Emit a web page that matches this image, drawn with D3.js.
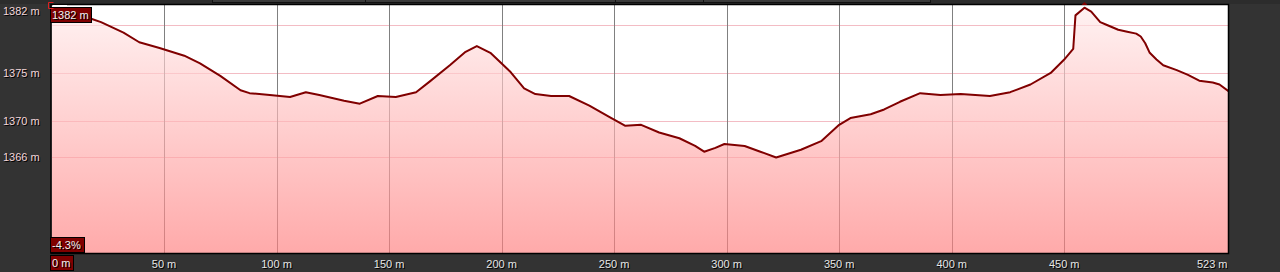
<!DOCTYPE html>
<html>
<head>
<meta charset="utf-8">
<script src="https://cdn.jsdelivr.net/npm/d3@7"></script>
<style>
  body { margin: 0; background: #333333; overflow: hidden; }
  svg { display: block; font-family: "Liberation Sans", Arial, sans-serif; }
</style>
</head>
<body>
<svg id="chart" width="1280" height="272"></svg>
<script>
// profile samples: distance (m) and elevation (m)
const distances = [0, 8, 17, 22, 32, 39, 48, 59, 66, 75, 84, 88, 97, 106, 113, 119, 130, 137, 145, 153,
  162, 168, 177, 184, 189, 195, 204, 210, 215, 222, 230, 239, 248, 255, 262, 270, 279, 286, 290, 295,
  299, 308, 315, 322, 333, 342, 350, 355, 364, 370, 377, 386, 395, 404, 417, 426, 435, 444, 450, 454,
  455, 459, 462, 466, 469, 474, 478, 482, 484, 486, 488, 491, 494, 500, 505, 510, 516, 519, 523];
const elevations = [1381.5, 1381.2, 1380.7, 1380.3, 1379.2, 1378.2, 1377.6, 1376.8, 1376.0, 1374.7,
  1373.2, 1372.9, 1372.7, 1372.5, 1373.0, 1372.7, 1372.1, 1371.8, 1372.6, 1372.5,
  1373.0, 1374.1, 1375.8, 1377.2, 1377.8, 1377.1, 1375.1, 1373.4, 1372.8, 1372.6,
  1372.6, 1371.6, 1370.4, 1369.5, 1369.6, 1368.8, 1368.2, 1367.4, 1366.8, 1367.2,
  1367.6, 1367.4, 1366.8, 1366.2, 1367.0, 1367.9, 1369.6, 1370.3, 1370.7, 1371.2,
  1372.0, 1372.9, 1372.7, 1372.8, 1372.6, 1373.0, 1373.8, 1375.0, 1376.4, 1377.5,
  1381.0, 1381.8, 1381.4, 1380.3, 1380.0, 1379.5, 1379.3, 1379.1, 1378.8, 1378.1,
  1377.1, 1376.4, 1375.8, 1375.3, 1374.8, 1374.2, 1374.0, 1373.8, 1373.1];
const xTicks = [0, 50, 100, 150, 200, 250, 300, 350, 400, 450, 523];
const yGrid = [1380, 1375, 1370];
const gradeLabel = "-4.3%";

const data = distances.map((d, i) => ({ d: d, e: elevations[i] }));
const minE = d3.min(elevations), maxE = d3.max(elevations);

const L = 51.5, R = 1228.5, T = 4.5, B = 253.5;
const svg = d3.select("#chart");

const x = d3.scaleLinear().domain([0, 523]).range([L, R]);
const y = d3.scaleLinear().domain([1356.25, 1382.08]).range([253, 5]);

// toolbar strip at the top
svg.append("rect").attr("x", 0).attr("y", 0).attr("width", 1280).attr("height", 4).attr("fill", "#2c2c2c");
const tabs = [[212, 365], [365, 615], [615, 703], [703, 930]];
svg.selectAll(".tab").data(tabs).enter().append("rect")
  .attr("x", d => d[0] + 0.5).attr("y", -2)
  .attr("width", d => d[1] - d[0]).attr("height", 4.5)
  .attr("fill", "#3a3a3a").attr("stroke", "#111");

// plot background
svg.append("rect").attr("x", L).attr("y", T).attr("width", R - L).attr("height", B - T).attr("fill", "#fff");

const defs = svg.append("defs");
const grad = defs.append("linearGradient").attr("id", "fillGrad")
  .attr("gradientUnits", "userSpaceOnUse")
  .attr("x1", 0).attr("y1", T).attr("x2", 0).attr("y2", B);
grad.append("stop").attr("offset", "0%").attr("stop-color", "rgb(255,236,236)");
grad.append("stop").attr("offset", "100%").attr("stop-color", "rgb(255,124,124)");
defs.append("clipPath").attr("id", "plotClip").append("rect")
  .attr("x", L).attr("y", T).attr("width", R - L).attr("height", B - T);

// grid
const grid = svg.append("g").attr("clip-path", "url(#plotClip)");
grid.selectAll(".hg").data(yGrid.concat([minE])).enter().append("line")
  .attr("x1", L).attr("x2", R)
  .attr("y1", d => Math.round(y(d)) + 0.5).attr("y2", d => Math.round(y(d)) + 0.5)
  .attr("stroke", "#f3bcc4").attr("stroke-width", 1);
grid.selectAll(".vg").data(xTicks.slice(1, -1)).enter().append("line")
  .attr("x1", d => Math.round(x(d)) + 0.5).attr("x2", d => Math.round(x(d)) + 0.5)
  .attr("y1", T).attr("y2", B)
  .attr("stroke", "#808080").attr("stroke-width", 1);

// elevation area and line
const body = svg.append("g").attr("clip-path", "url(#plotClip)");
body.append("path").datum(data)
  .attr("d", d3.area().x(d => x(d.d)).y0(B).y1(d => y(d.e)))
  .attr("fill", "url(#fillGrad)").attr("fill-opacity", 0.65);
body.append("path").datum(data)
  .attr("d", d3.line().x(d => x(d.d)).y(d => y(d.e)))
  .attr("fill", "none").attr("stroke", "#800000").attr("stroke-width", 2)
  .attr("stroke-linejoin", "round");

// plot border
svg.append("rect").attr("x", L - 0.5).attr("y", T).attr("width", R - L + 0.5).attr("height", B - T)
  .attr("fill", "none").attr("stroke", "#000").attr("stroke-width", 1.5);

function shadowText(g, tx, ty, txt, anchor, color) {
  g.append("text").attr("x", tx + 1).attr("y", ty + 1).attr("text-anchor", anchor)
    .attr("font-size", 11).attr("fill", "#000").text(txt);
  g.append("text").attr("x", tx).attr("y", ty).attr("text-anchor", anchor)
    .attr("font-size", 11).attr("fill", color).text(txt);
}

// y labels
const yLabels = [maxE].concat(yGrid.slice(1), [minE]);
const yl = svg.append("g");
yLabels.forEach(v => {
  shadowText(yl, 3, Math.max(y(v), 11) + 4, d3.format(".0f")(v) + " m", "start", "#f2d6da");
});

// x labels
const xl = svg.append("g");
xTicks.slice(1, -1).forEach(v => {
  shadowText(xl, x(v), 268, v + " m", "middle", "#e6e6e6");
});
shadowText(xl, R - 1, 268, xTicks[xTicks.length - 1] + " m", "end", "#e6e6e6");

// value boxes
function box(bx, by, w, h, txt) {
  const g = svg.append("g");
  g.append("rect").attr("x", bx + 0.5).attr("y", by + 0.5).attr("width", w).attr("height", h)
    .attr("fill", "#800000").attr("stroke", "#000");
  shadowText(g, bx + 2, by + h - 3.5, txt, "start", "#f0f0f0");
}
box(50, 7, 41, 15, d3.format(".0f")(data[0].e) + " m");
box(50, 237, 34, 15, gradeLabel);
box(50, 255, 23, 15, xTicks[0] + " m");

// cursor marker at top left
svg.append("path").attr("d", "M53.5,2.5 H48.5 V8.5 H53.5").attr("fill", "none").attr("stroke", "#e02020");
svg.append("line").attr("x1", 53).attr("x2", 67).attr("y1", 5.5).attr("y2", 5.5).attr("stroke", "#fff");

// max marker above peak
const peak = data.find(d => d.e === maxE);
svg.append("path")
  .attr("d", `M${x(peak.d) - 3},${5} L${x(peak.d) + 3},${5} L${x(peak.d)},${2} Z`)
  .attr("fill", "#800000");
</script>
</body>
</html>
